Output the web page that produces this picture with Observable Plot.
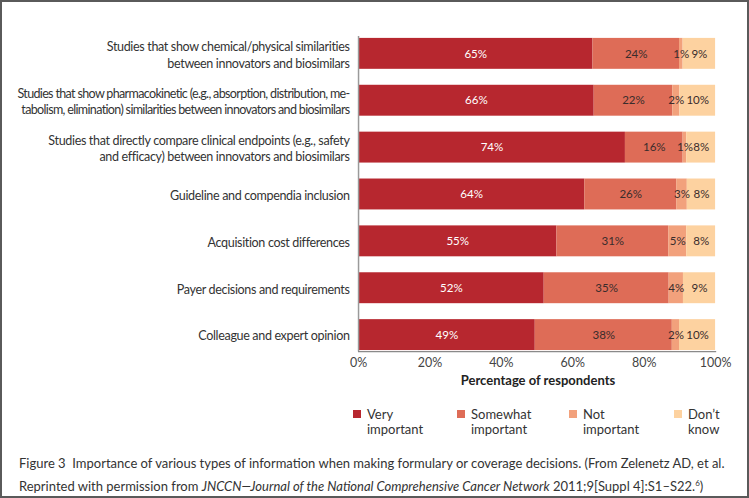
<!DOCTYPE html>
<html>
<head>
<meta charset="utf-8">
<script src="https://cdn.jsdelivr.net/npm/d3@7"></script>
<script src="https://cdn.jsdelivr.net/npm/@observablehq/plot@0.6"></script>
<style>
  html, body { margin: 0; padding: 0; background: #fff; }
  #frame { position: relative; width: 749px; height: 498px; box-sizing: border-box; border: 2px solid #5a5a5a; overflow: hidden; font-family: Lato, "Open Sans", sans-serif; color: #333; }
  #chart { position: absolute; left: -2px; top: -2px; }
  #xtitle { position: absolute; left: 355px; width: 362px; top: 370px; text-align: center; font-weight: bold; font-size: 13px; color: #222; }
  #legend { position: absolute; top: 404px; left: 0; width: 749px; height: 40px; }
  .item { position: absolute; font-size: 13px; line-height: 15px; color: #333; }
  .sw { position: absolute; left: -14px; top: 3px; width: 8px; height: 8px; }
  #caption { position: absolute; left: 17px; top: 451px; width: 725px; font-size: 13px; line-height: 20px; color: #333; }
</style>
</head>
<body>
<div id="frame">
  <div id="chart"></div>
  <div id="xtitle"></div>
  <div id="legend"></div>
  <div id="caption">Figure 3&nbsp; Importance of various types of information when making formulary or coverage decisions. (From Zelenetz AD, et al.<br>Reprinted with permission from <i>JNCCN—Journal of the National Comprehensive Cancer Network</i> 2011;9[Suppl 4]:S1–S22.<sup style="font-size:8px">6</sup>)</div>
</div>
<script>
const categories = [
  "Studies that show chemical/physical similarities\nbetween innovators and biosimilars",
  "Studies that show pharmacokinetic (e.g., absorption, distribution, me-\ntabolism, elimination) similarities between innovators and biosimilars",
  "Studies that directly compare clinical endpoints (e.g., safety\nand efficacy) between innovators and biosimilars",
  "Guideline and compendia inclusion",
  "Acquisition cost differences",
  "Payer decisions and requirements",
  "Colleague and expert opinion"
];
const responses = ["Very important", "Somewhat important", "Not important", "Don\u2019t know"];
const legendLines = [["Very", "important"], ["Somewhat", "important"], ["Not", "important"], ["Don\u2019t", "know"]];
const veryImportant = [65, 66, 74, 64, 55, 52, 49];
const somewhatImportant = [24, 22, 16, 26, 31, 35, 38];
const notImportant = [1, 2, 1, 3, 5, 4, 2];
const dontKnow = [9, 10, 8, 8, 8, 9, 10];
const xTicks = [0, 0.2, 0.4, 0.6, 0.8, 1];
const xTitle = "Percentage of respondents";
const colors = ["#b7272f", "#de6c57", "#f2a17c", "#fdd2a0"];

const series = [veryImportant, somewhatImportant, notImportant, dontKnow];
const data = [];
categories.forEach((c, i) => {
  series.forEach((s, j) => data.push({category: c, response: responses[j], value: s[i]}));
});

const marginLeft = 359;
const plot = Plot.plot({
  width: 749,
  height: 374,
  marginLeft,
  marginRight: 32,
  marginTop: 36,
  marginBottom: 22,
  style: {fontFamily: "Lato, sans-serif", fontSize: "13px", color: "#333"},
  x: {domain: [0, 1]},
  y: {domain: categories, paddingInner: 0.35, paddingOuter: 0},
  color: {domain: responses, range: colors},
  marks: [
    Plot.barX(data, Plot.stackX({x: "value", y: "category", fill: "response", offset: "normalize"})),
    Plot.text(data, Plot.stackX({
      x: "value", y: "category", offset: "normalize",
      text: d => d.value + "%",
      fill: d => d.response === responses[0] ? "#ffffff" : "#3a2c2c",
      fontSize: 11.6, ariaLabel: "bar-label"
    })),
    Plot.ruleX([0], {stroke: "#9a9a9a", strokeWidth: 1.5}),
    Plot.frame({anchor: "bottom", stroke: "#8a8a8a", strokeWidth: 1.2}),
    Plot.axisY({tickSize: 0, tickPadding: 9, label: null, lineHeight: 1.33, fontSize: 12.6, fill: "#333"}),
    Plot.axisX({ticks: xTicks, tickFormat: d3.format(".0%"), tickSize: 0, tickPadding: 7, label: null, fontSize: 12.5, fill: "#444"})
  ]
});
document.getElementById("chart").appendChild(plot);
d3.select(plot).selectAll('g[aria-label="bar-label"]').style("letter-spacing", "-0.5px");
// tighten y labels; squeeze any label that would not fit in the left margin
const baseLS = -0.35;
const maxW = marginLeft - 9 - 17;
d3.select(plot).selectAll('g[aria-label="y-axis tick label"] text').each(function() {
  this.style.letterSpacing = baseLS + "px";
  const w = this.getBBox().width;
  if (w > maxW) {
    const tspans = this.querySelectorAll("tspan");
    const chars = tspans.length ? Math.max(...Array.from(tspans, t => t.textContent.length)) : this.textContent.length;
    this.style.letterSpacing = (baseLS - (w - maxW) / chars) + "px";
  }
});
document.getElementById("xtitle").textContent = xTitle;

const legendX = [367, 471, 583, 688];
const legend = document.getElementById("legend");
responses.forEach((r, j) => {
  const div = document.createElement("div");
  div.className = "item";
  div.style.left = (legendX[j] - 2) + "px";
  div.style.top = "1px";
  div.innerHTML = `<span class="sw" style="background:${colors[j]}"></span>${legendLines[j][0]}<br>${legendLines[j][1]}`;
  legend.appendChild(div);
});
</script>
</body>
</html>
